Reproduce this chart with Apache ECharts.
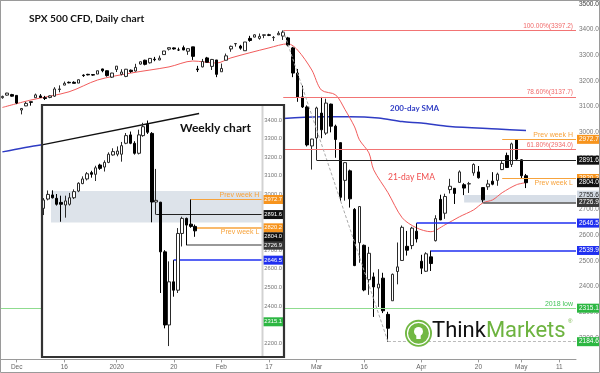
<!DOCTYPE html>
<html><head><meta charset="utf-8">
<script src="https://cdn.jsdelivr.net/npm/echarts@6/dist/echarts.min.js"></script>
<style>html,body{margin:0;padding:0;background:#fff;}#c{width:600px;height:373px;}</style>
</head><body><div id="c"></div>
<script>
// ---------- Daily data (main chart) ----------
const days = ['11-26','11-27','11-29','12-02','12-03','12-04','12-05','12-06','12-09','12-10','12-11','12-12','12-13','12-16','12-17','12-18','12-19','12-20','12-23','12-24','12-26','12-27','12-30','12-31',
'01-02','01-03','01-06','01-07','01-08','01-09','01-10','01-13','01-14','01-15','01-16','01-17','01-20','01-21','01-22','01-23','01-24','01-27','01-28','01-29','01-30','01-31',
'02-03','02-04','02-05','02-06','02-07','02-10','02-11','02-12','02-13','02-14','02-17','02-18','02-19','02-20','02-21','02-24','02-25','02-26','02-27','02-28',
'03-02','03-03','03-04','03-05','03-06','03-09','03-10','03-11','03-12','03-13','03-16','03-17','03-18','03-19','03-20','03-23','03-24','03-25','03-26','03-27','03-30','03-31',
'04-01','04-02','04-03','04-06','04-07','04-08','04-09','04-13','04-14','04-15','04-16','04-17','04-20','04-21','04-22','04-23','04-24','04-27','04-28','04-29','04-30','05-01','05-04'];
const dOpen = [3135,3145,3147,3144,3087,3103,3119,3135,3142,3135,3136,3141,3167,3184,3195,3195,3192,3223,3226,3225,3227,3247,3240,3215,
3245,3226,3218,3242,3239,3266,3281,3271,3285,3282,3303,3324,3329,3321,3330,3316,3333,3247,3255,3290,3257,3282,
3236,3281,3325,3345,3336,3318,3366,3371,3366,3378,3380,3369,3380,3375,3368,3329,3231,3138,3099,2947,
2978,3075,2997,3110,3024,2960,2813,2850,2700,2570,2560,2426,2437,2394,2432,2291,2344,2458,2501,2556,2559,2615,
2498,2459,2515,2578,2739,2685,2777,2782,2805,2796,2799,2842,2846,2785,2788,2810,2813,2855,2910,2875,2970,2893,2831];
const dHigh = [3143,3154,3150,3144,3095,3119,3119,3151,3149,3142,3144,3176,3183,3198,3198,3199,3206,3226,3228,3226,3240,3248,3241,3232,
3258,3246,3247,3245,3267,3276,3283,3288,3294,3299,3317,3330,3331,3330,3338,3327,3333,3259,3286,3294,3286,3282,
3268,3307,3338,3348,3341,3352,3376,3382,3385,3381,3384,3375,3394,3397.2,3372,3333,3247,3182,3105,2975,
3100,3138,3131,3112,3030,2960,2883,2855,2705,2711,2563,2554,2454,2467,2453,2301,2450,2571,2637,2616,2632,2646.5,
2523,2533,2539.9,2677,2757,2761,2819,2783,2852,2802,2807,2879,2869,2786,2815,2845,2843,2888,2921,2960,2972.7,2895,2838];
const dLow = [3131,3143,3139,3110,3070,3102,3104,3135,3135,3126,3133,3138,3156,3184,3191,3191,3192,3216,3222,3220,3227,3234,3217,3212,
3235,3222,3215,3232,3237,3264,3261,3268,3277,3281,3303,3319,3322,3317,3320,3302,3282,3235,3253,3272,3243,3215,
3236,3281,3314,3334,3322,3318,3353,3370,3361,3367,3375,3356,3379,3360,3335,3215,3119,3095,2945,2855,
2891.6,2977,2990,3000,2901,2734,2734,2707,2479,2492,2381,2367,2281,2320,2296,2184.6,2344,2408,2501,2520,2545,2571,
2448,2456,2460,2575,2658,2663,2762,2721,2805,2755.6,2764,2831,2820,2726.9,2776,2794,2792,2853,2861,2865,2890,2820.2,2783];
const dClose = [3140,3153,3141,3114,3093,3113,3117,3146,3136,3132,3142,3169,3169,3191,3193,3191,3205,3221,3224,3223,3240,3240,3221,3231,
3258,3235,3246,3237,3253,3275,3265,3288,3283,3289,3317,3330,3325,3321,3321,3326,3296,3244,3276,3273,3284,3226,
3249,3298,3335,3346,3328,3352,3358,3380,3374,3380,3378,3370,3386,3390,3340,3231,3138,3099,2951,2974,
3095,3010,3114,3024,2972,2747,2882,2741,2481,2711,2386,2529,2398,2409,2305,2237,2447,2476,2630,2541,2627,2585,
2471,2527,2489,2664,2659,2750,2790,2762,2846,2783,2800,2875,2823,2737,2799,2798,2837,2879,2863,2955,2896,2831,2804.0];
const futureSlots = 10;
const xTickIdx = [3,13,24,36,46,56,66,76,88,100,109,117];
const xTickText = ['Dec','16','2020','20','Feb','17','Mar','16','Apr','20','May','11'];
// 21-day EMA readings (slot index -> value)
const emaIdx = [0,6,14,20,27,35,40,45,48,56,60,62,65,67,70,72,74,75,77,78,81,84,87,90,93,96,99,101,103,105,108,110];
const emaVal = [3097,3126,3158,3204,3231,3255,3278,3270,3290,3329,3345,3321,3243,3165,3146,3088,3021,2971,2920,2854,2765,2667,2628,2613,2640,2671,2698,2726,2737,2765,2796,2804];
// 200-day SMA readings
const smaIdx = [0,8,30,59,67,73,79,84,88,94,104,110];
const smaVal = [2924,2951,3010,3054,3061,3061,3056,3042,3036,3023,3013,3007];
// Fibonacci & key levels
const fibLevels = [3397.2, 3137.7, 2934.0];
const fibNames = ['100.00%', '78.60%', '61.80%'];
const prevWeekH = 2972.7, prevWeekL = 2820.2, lastPrice = 2804.0;
const resLevel = 2891.6, zoneTop = 2755.6, zoneBot = 2726.9;
const blueLevels = [2646.5, 2539.9];
const low2018 = 2315.1, crashLow = 2184.6;

// ---------- Weekly data (inset) ----------
const weeks = ['09-02','09-09','09-16','09-23','09-30','10-07','10-14','10-21','10-28','11-04','11-11','11-18','11-25','12-02','12-09','12-16','12-23','12-30',
'01-06','01-13','01-20','01-27','02-03','02-10','02-17','02-24','03-02','03-09','03-16','03-23','03-30','04-06','04-13','04-20','04-27','05-04'];
const wOpen = [2925,2975,2997,2979,2957,2943,2947,2982,3018,3058,3083,3117,3108,3158,3147,3172,3212,3216,3216,3275,3320,3275,3221,3316,3377,3328,2959,2958,2691,2298,2530,2485,2790,2871,2840,2828];
const wHigh = [2980,3021,3022,3002,2993,2993,3008,3027,3065,3097,3120,3127,3154,3165,3183,3226,3248,3258,3282,3330,3338,3286,3348,3385,3397.2,3335,3137,2960,2700,2640,2646.5,2819,2880,2875,2972.7,2838];
const wLow = [2889,2968,2978,2940,2853,2875,2940,2975,3012,3055,3075,3090,3072,3132,3123,3168,3208,3205,3176,3270,3270,3214,3215,3310,3325,2850,2891.6,2470,2280,2184.6,2450,2470,2720,2726.9,2820.2,2772];
const wClose = [2970,3000,2982,2947,2947,2965,2982,3015,3060,3083,3111,3108,3143,3140,3172,3216,3230,3233,3262,3316,3275,3221,3320,3364,3334,2959,2968,2691,2298,2530,2485,2790,2871,2835,2828,2804];
const wFutureSlots = 15;
const wTrend = [[0.1, 3266], [36.4, 3435]];
const wZone = [3018, 2849];

// ---------- build ----------
const nSlots = days.length + futureSlots;
const cats = days.concat(Array.from({length: futureSlots}, (_, i) => 'f' + i));
const wN = weeks.length + wFutureSlots;
const wCats = weeks.concat(Array.from({length: wFutureSlots}, (_, i) => 'wf' + i));
function sparse(idx, vals, n) { const a = new Array(n).fill(null); idx.forEach((k, j) => a[k] = vals[j]); return a; }

const F = 'Liberation Sans';
const boxLabel = (txt, bg, fg, off, fs) => ({show: true, position: 'end', formatter: txt, backgroundColor: bg, color: fg || '#fff',
  fontSize: fs || 6.5, fontFamily: F, padding: fs ? [1, 2, 1, 1] : [1, 3, 1, 2], distance: 1, lineHeight: 7, offset: off || [0, 0]});
const ibox = (txt, bg, fg, off) => boxLabel(txt, bg, fg, off, 5.8);
const hid = {color: 'rgba(255,255,255,0)', width: 0.1, type: 'solid'};
function seg(x0, x1, p, ls, lab) { return [{coord: [x0, p], lineStyle: ls, label: lab || {show: false}}, {coord: [x1, p]}]; }
const ORANGE = '#f7a33c', ORB = '#f7941d', BLUE = '#1f2ff0', GREEN = '#2cb742', FIBC = '#f27474';

const mainLines = [];
fibLevels.forEach((p, i) => mainLines.push(seg(59.5, nSlots, p, {color: FIBC, width: 1, type: 'solid'},
  {show: true, position: 'insideEndTop', formatter: fibNames[i] + '(' + p.toFixed(1) + ')', color: '#f06a6a', fontSize: 6.5, fontFamily: F, distance: [3, 1]})));
mainLines.push([{coord: [59.5, fibLevels[0]], lineStyle: {color: '#aaa', type: [3, 2], width: 1}}, {coord: [81.5, crashLow]}]);
mainLines.push(seg(81.5, nSlots, crashLow, {color: '#bbb', type: [3, 2], width: 1}, boxLabel(crashLow.toFixed(1), GREEN)));
mainLines.push(seg(0, nSlots, low2018, {color: '#8fdc8f', width: 1, type: 'solid'},
  {show: true, position: 'insideEndTop', formatter: '2018 low', color: '#45c45a', fontSize: 7, fontFamily: F, distance: [3, 1]}));
mainLines.push(seg(nSlots - 1, nSlots, low2018, hid, boxLabel(low2018.toFixed(1), GREEN)));
blueLevels.forEach((p, i) => mainLines.push(seg(i === 0 ? 87.5 : 90.5, nSlots, p, {color: BLUE, width: 1.5, type: 'solid'}, boxLabel(p.toFixed(1), BLUE))));
mainLines.push(seg(nSlots - 1, nSlots, zoneTop, hid, boxLabel(zoneTop.toFixed(1), '#d3dae3', '#222')));
mainLines.push(seg(101.5, nSlots, zoneBot, {color: '#555', width: 1.5, type: 'solid'}, boxLabel(zoneBot.toFixed(1), '#3a3a3a')));
mainLines.push(seg(66.5, nSlots, resLevel, {color: '#222', width: 1, type: 'solid'}, boxLabel(resLevel.toFixed(1), '#111')));
mainLines.push(seg(105.5, nSlots, prevWeekH, {color: ORANGE, width: 1, type: 'solid'},
  {show: true, position: 'insideEndTop', formatter: 'Prev week H', color: ORANGE, fontSize: 7, fontFamily: F, distance: [3, 1]}));
mainLines.push(seg(nSlots - 1, nSlots, prevWeekH, hid, boxLabel(prevWeekH.toFixed(1), ORB)));
mainLines.push(seg(105.5, nSlots, prevWeekL, {color: ORANGE, width: 1, type: 'solid'},
  {show: true, position: 'insideEndBottom', formatter: 'Prev week L', color: ORANGE, fontSize: 7, fontFamily: F, distance: [3, 1]}));
mainLines.push(seg(nSlots - 1, nSlots, prevWeekL, hid, boxLabel(prevWeekL.toFixed(1), ORB)));
mainLines.push(seg(nSlots - 1, nSlots, lastPrice, hid, boxLabel(lastPrice.toFixed(1), '#111')));

const insetLines = [];
insetLines.push(seg(26.5, wN, resLevel, {color: '#222', width: 1, type: 'solid'}, ibox(resLevel.toFixed(1), '#111')));
insetLines.push(seg(34.5, wN, prevWeekH, {color: ORANGE, width: 1, type: 'solid'},
  {show: true, position: 'insideEndTop', formatter: 'Prev week H', color: ORANGE, fontSize: 7, fontFamily: F, distance: [3, 1]}));
insetLines.push(seg(wN - 1, wN, prevWeekH, hid, ibox(prevWeekH.toFixed(1), ORB)));
insetLines.push(seg(33.5, wN, zoneBot, {color: '#777', width: 1.5, type: 'solid'}, ibox(zoneBot.toFixed(1), '#3a3a3a')));
insetLines.push(seg(30.5, wN, blueLevels[0], {color: BLUE, width: 1.5, type: 'solid'}, ibox(blueLevels[0].toFixed(1), BLUE)));
insetLines.push(seg(35, wN, prevWeekL, {color: ORANGE, width: 1.5, type: 'solid'},
  {show: true, position: 'insideEndBottom', formatter: 'Prev week L', color: ORANGE, fontSize: 7, fontFamily: F, distance: [3, 1]}));
insetLines.push(seg(wN - 1, wN, prevWeekL, hid, ibox(prevWeekL.toFixed(1), ORB)));
insetLines.push(seg(wN - 1, wN, lastPrice, hid, ibox(lastPrice.toFixed(1), '#111', null, [0, 6])));
insetLines.push(seg(wN - 1, wN, low2018, hid, ibox(low2018.toFixed(1), GREEN)));

const candleStyle = {color: '#ffffff', color0: '#000000', borderColor: '#2a2a2a', borderColor0: '#000000', borderWidth: 1};

const option = {
  animation: false,
  backgroundColor: '#ffffff',
  grid: [
    {left: 0, right: 24, top: -21.67, bottom: 9.6, outerBoundsMode: 'none', containLabel: false},
    {left: 41.5, right: 337.7, top: 101.4, bottom: 11.2, z: 60, outerBoundsMode: 'none', containLabel: false}
  ],
  xAxis: [
    {type: 'category', gridIndex: 0, data: cats, boundaryGap: true, offset: -4,
      axisLine: {lineStyle: {color: '#9a9a9a'}},
      axisTick: {show: true, interval: (i) => xTickIdx.includes(i), length: 3, alignWithLabel: true, lineStyle: {color: '#9a9a9a'}},
      axisLabel: {interval: (i) => xTickIdx.includes(i), formatter: (v, i) => xTickText[xTickIdx.indexOf(i)] || '', color: '#666', fontSize: 6.5, fontFamily: F, margin: 4},
      splitLine: {show: false}},
    {type: 'value', gridIndex: 0, min: 0, max: nSlots, show: false},
    {type: 'category', gridIndex: 1, data: wCats, boundaryGap: true, show: false, z: 60},
    {type: 'value', gridIndex: 1, min: 0, max: wN, show: false, z: 60}
  ],
  yAxis: [
    {type: 'value', gridIndex: 0, position: 'right', min: 2100, max: 3600, interval: 100,
      axisLine: {show: true, lineStyle: {color: '#a8a8a8'}}, axisTick: {show: false}, splitLine: {show: false},
      axisLabel: {formatter: (v) => (v <= 2100 || v >= 3600) ? '' : v.toFixed(1), color: '#777', fontSize: 6.5, fontFamily: F, margin: 3,
        hideOverlap: false, showMinLabel: true, showMaxLabel: true}},
    {type: 'value', gridIndex: 1, position: 'right', min: 2100, max: 3500, interval: 100, z: 60,
      axisLine: {show: false}, axisTick: {show: false}, splitLine: {show: false},
      axisLabel: {formatter: (v) => (v <= 2100 || v >= 3500) ? '' : v.toFixed(1), color: '#777', fontSize: 5.8, fontFamily: F, margin: 2}}
  ],
  series: [
    {type: 'line', xAxisIndex: 1, yAxisIndex: 0, data: [], z: 1, silent: true,
      markArea: {silent: true, z: 1, itemStyle: {color: '#d7dee7'}, data: [[{coord: [97.5, zoneTop]}, {coord: [nSlots, zoneBot]}]]},
      markLine: {silent: true, z: 5, symbol: ['none', 'none'], animation: false, data: mainLines}},
    {type: 'line', xAxisIndex: 0, yAxisIndex: 0, data: sparse(smaIdx, smaVal, days.length), connectNulls: true, smooth: 0.3,
      symbol: 'none', lineStyle: {color: '#2f3cc4', width: 1.5}, z: 3},
    {type: 'line', xAxisIndex: 0, yAxisIndex: 0, data: sparse(emaIdx, emaVal, days.length), connectNulls: true, smooth: 0.3,
      symbol: 'none', lineStyle: {color: '#f25c5c', width: 1}, z: 3},
    {type: 'candlestick', xAxisIndex: 0, yAxisIndex: 0, barWidth: 3, itemStyle: candleStyle, z: 4,
      data: days.map((d, i) => [dOpen[i], dClose[i], dLow[i], dHigh[i]])},
    // inset
    {type: 'line', xAxisIndex: 3, yAxisIndex: 1, data: [], z: 61, silent: true,
      markArea: {silent: true, z: 55, itemStyle: {color: '#dde3ea'}, data: [[{coord: [2.2, wZone[0]]}, {coord: [wN, wZone[1]]}]]},
      markLine: {silent: true, z: 62, symbol: ['none', 'none'], animation: false, data: insetLines}},
    {type: 'line', xAxisIndex: 3, yAxisIndex: 1, data: wTrend, symbol: 'none', lineStyle: {color: '#111', width: 1.3}, z: 62},
    {type: 'candlestick', xAxisIndex: 2, yAxisIndex: 1, barWidth: 3, itemStyle: candleStyle, z: 63,
      data: weeks.map((d, i) => [wOpen[i], wClose[i], wLow[i], wHigh[i]])}
  ],
  graphic: [
    {type: 'rect', z: 50, silent: true, shape: {x: 42, y: 105, width: 242, height: 252}, style: {fill: '#ffffff'}},
    {type: 'line', z: 64, silent: true, shape: {x1: 262.5, y1: 105, x2: 262.5, y2: 357}, style: {stroke: '#d2d2d2', lineWidth: 2}},
    {type: 'rect', z: 100, silent: true, shape: {x: 42, y: 105, width: 242, height: 252}, style: {fill: null, stroke: '#333', lineWidth: 2.2}},
    {type: 'text', z: 100, left: 180, top: 122, style: {text: 'Weekly chart', fontSize: 12, fontWeight: 'bold', fontFamily: 'Lato', fill: '#111'}},
    {type: 'text', z: 100, left: 29, top: 14, style: {text: 'SPX 500 CFD, Daily chart', fontSize: 10.2, fontWeight: 'bold', fontFamily: 'Lato', fill: '#111'}},
    {type: 'text', z: 100, left: 390, top: 104, style: {text: '200-day SMA', fontSize: 8, fontWeight: 'bold', fontFamily: 'Lato', fill: '#2f3cc4'}},
    {type: 'text', z: 100, left: 388, top: 173, style: {text: '21-day EMA', fontSize: 8.5, fontFamily: 'Lato', fill: '#ef4d4d'}},
    // ThinkMarkets logo
    {type: 'circle', z: 100, silent: true, shape: {cx: 418.5, cy: 333.3, r: 13.5}, style: {fill: '#72b844'}},
    {type: 'circle', z: 100, silent: true, shape: {cx: 418.5, cy: 333.3, r: 11}, style: {fill: null, stroke: '#ffffff', lineWidth: 1.2}},
    {type: 'circle', z: 101, silent: true, shape: {cx: 418.5, cy: 331.5, r: 4.5}, style: {fill: '#ffffff'}},
    {type: 'rect', z: 101, silent: true, shape: {x: 416.3, y: 334.5, width: 4.4, height: 4.5}, style: {fill: '#ffffff'}},
    {type: 'text', z: 100, left: 432, top: 320, style: {text: '{a|Think}{b|Markets}', fontFamily: 'Roboto', fontSize: 22,
      rich: {a: {fill: '#111', fontSize: 22, fontFamily: 'Roboto'}, b: {fill: '#6db33f', fontSize: 22, fontFamily: 'Roboto'}}}},
    {type: 'text', z: 100, left: 568, top: 318, style: {text: '®', fontSize: 6, fill: '#6db33f', fontFamily: F}},
    {type: 'text', z: 100, left: 579, top: 0.5, style: {text: '3500.0', fontSize: 6.5, fill: '#777', fontFamily: F}},
    {type: 'rect', z: 120, silent: true, shape: {x: 0.5, y: 0.5, width: 599, height: 372}, style: {fill: null, stroke: '#9a9a9a', lineWidth: 1}}
  ]
};
const chart = echarts.init(document.getElementById('c'), null, {renderer: 'canvas', width: 600, height: 373});
chart.setOption(option);
</script></body></html>
